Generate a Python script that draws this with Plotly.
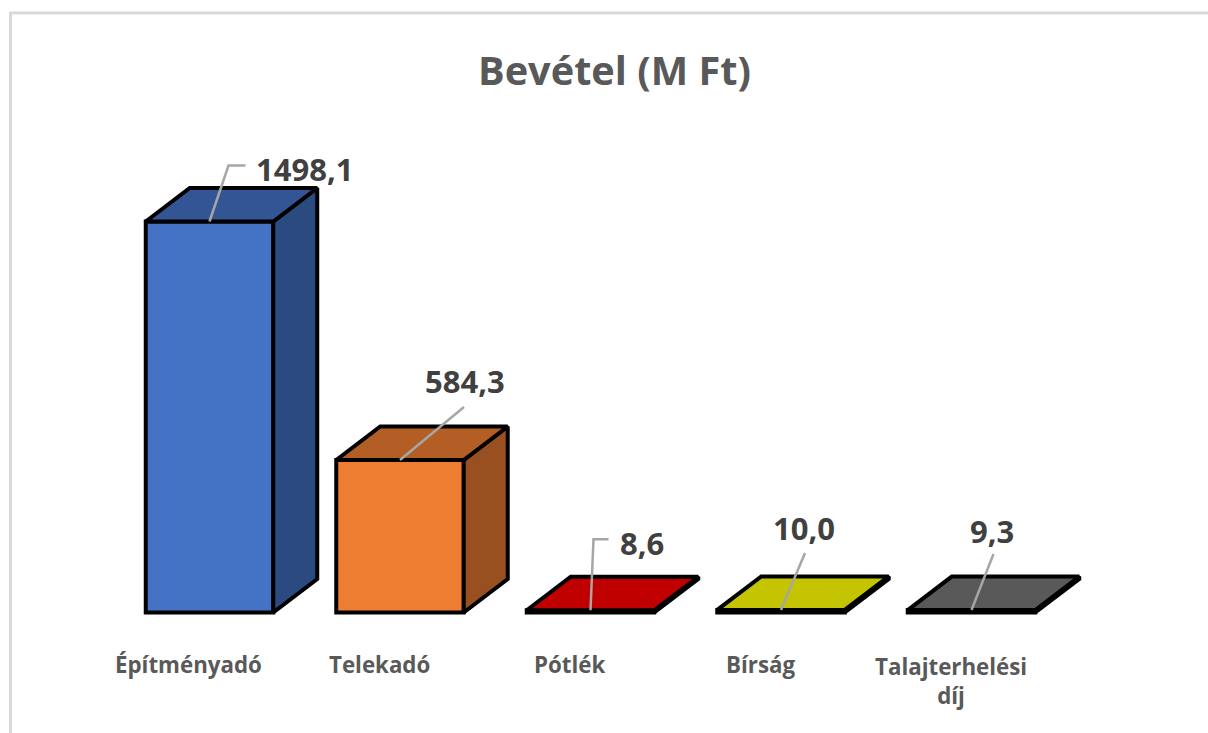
import plotly.graph_objects as go

categories = ["Építményadó", "Telekadó", "Pótlék", "Bírság", "Talajterhelési<br>díj"]
values = [1498.1, 584.3, 8.6, 10.0, 9.3]
value_labels = ["1498,1", "584,3", "8,6", "10,0", "9,3"]
front_colors = ["#4472C4", "#ED7D31", "#C00000", "#C4C400", "#595959"]
top_colors = ["#335593", "#B35E24", "#C00000", "#C4C400", "#595959"]
side_colors = ["#2A4A80", "#985020", "#900000", "#939300", "#434343"]

W, H = 1208, 733
X0, STEP = 209.5, 190.5       # pixel centre of first category, pixel spacing
Y0, PX_PER_UNIT = 612.5, 391.0 / 1498.1
DX = 44 / STEP                # depth offset in axis units
DY = 33.5 / PX_PER_UNIT
BAR_W = 127.5 / STEP

dx = lambda px: px / STEP
dy = lambda px: px / PX_PER_UNIT

# leader line bends as pixel offsets from the top-centre of each bar
leader_offsets = [
    [(0, 0), (19, 56), (36, 56)],
    [(0, 0), (64, 53)],
    [(0, 0), (3, 71), (18, 71)],
    [(0, 0), (24, 57)],
    [(0, 0), (22, 56)],
]
label_offsets = [(95, 53), (65, 79), (51, 67), (23, 82), (20, 79)]

fig = go.Figure()
fig.add_trace(go.Bar(
    x=list(range(5)), y=values, width=BAR_W,
    marker=dict(color=front_colors, line=dict(color="black", width=4)),
    hoverinfo="skip", showlegend=False,
))

for i, v in enumerate(values):
    l, r = i - BAR_W / 2, i + BAR_W / 2
    fig.add_trace(go.Scatter(
        x=[r, r + DX, r + DX, r, r], y=[0, DY, v + DY, v, 0],
        mode="lines", fill="toself", fillcolor=side_colors[i],
        line=dict(color="black", width=4), hoverinfo="skip", showlegend=False,
    ))
    fig.add_trace(go.Scatter(
        x=[l, l + DX, r + DX, r, l], y=[v, v + DY, v + DY, v, v],
        mode="lines", fill="toself", fillcolor=top_colors[i],
        line=dict(color="black", width=4), hoverinfo="skip", showlegend=False,
    ))
    fig.add_trace(go.Scatter(
        x=[i + dx(p[0]) for p in leader_offsets[i]],
        y=[v + dy(p[1]) for p in leader_offsets[i]],
        mode="lines", line=dict(color="#A6A6A6", width=2.5),
        hoverinfo="skip", showlegend=False,
    ))
    fig.add_annotation(
        x=i, y=v, xref="x", yref="y", text=f"<b>{value_labels[i]}</b>", showarrow=False,
        xshift=label_offsets[i][0], yshift=label_offsets[i][1],
        font=dict(family="Open Sans", size=31, color="#404040"),
    )
    fig.add_annotation(
        x=i, y=0, xref="x", yref="y", text=f"<b>{categories[i]}</b>", showarrow=False,
        xshift=-21, yshift=-52 if i < 4 else -68,
        font=dict(family="Open Sans", size=22.3, color="#595959"),
    )

fig.add_annotation(
    x=614 / W, y=1 - 70 / H, xref="paper", yref="paper", text="<b>Bevétel (M Ft)</b>",
    xanchor="center", yanchor="middle",
    showarrow=False, font=dict(family="Open Sans", size=39.7, color="#595959"),
)

fig.add_shape(type="line", xref="paper", yref="paper", x0=10.5 / W, x1=10.5 / W,
              y0=0, y1=1 - 13 / H, line=dict(color="#D9D9D9", width=3))
fig.add_shape(type="line", xref="paper", yref="paper", x0=9 / W, x1=1,
              y0=1 - 13 / H, y1=1 - 13 / H, line=dict(color="#D9D9D9", width=3))

fig.update_layout(
    width=W, height=H, margin=dict(l=0, r=0, t=0, b=0),
    paper_bgcolor="white", plot_bgcolor="white", showlegend=False,
    xaxis=dict(visible=False, range=[-X0 / STEP, (W - X0) / STEP]),
    yaxis=dict(visible=False, range=[-(H - Y0) / PX_PER_UNIT, Y0 / PX_PER_UNIT]),
)
fig.write_html(
    "out.html", config={"displayModeBar": False},
    post_script="document.body.style.margin='0';document.body.style.overflow='hidden';",
)
